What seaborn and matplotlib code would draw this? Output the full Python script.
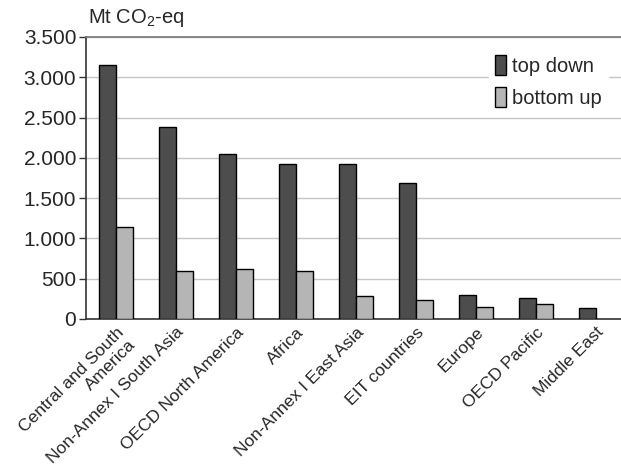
import pandas as pd
import matplotlib
matplotlib.use("Agg")
import matplotlib.pyplot as plt
import matplotlib.ticker as mticker
import numpy as np
import seaborn as sns

regions = ["Central and South\nAmerica", "Non-Annex I South Asia", "OECD North America",
           "Africa", "Non-Annex I East Asia", "EIT countries", "Europe",
           "OECD Pacific", "Middle East"]
top_down = [3150, 2380, 2050, 1925, 1920, 1690, 295, 255, 133]
bottom_up = [1140, 600, 620, 600, 287, 242, 146, 183, np.nan]
series = ["top down", "bottom up"]
colors = ["#4d4d4d", "#b5b5b5"]

df = pd.DataFrame({
    "region": regions * 2,
    "value": top_down + bottom_up,
    "method": [series[0]] * len(regions) + [series[1]] * len(regions),
})

sns.set_style("white")
plt.rcParams["font.family"] = ["Liberation Sans", "DejaVu Sans"]
plt.rcParams["mathtext.fontset"] = "custom"
plt.rcParams["mathtext.rm"] = "Liberation Sans"

fig = plt.figure(figsize=(6.21, 4.69), dpi=100)
ax = fig.add_axes([86 / 621, 150 / 469, 540 / 621, 282 / 469])

sns.barplot(data=df, x="region", y="value", hue="method", palette=colors,
            width=0.58, gap=0, edgecolor="black", linewidth=1.0, ax=ax,
            saturation=1, zorder=3)

ax.set_xlim(-0.5, 8.5)
ax.set_ylim(0, 3500)
ax.yaxis.set_major_locator(mticker.MultipleLocator(500))
ax.yaxis.set_major_formatter(mticker.FuncFormatter(lambda v, p: f"{int(v):,}".replace(",", ".")))
ax.grid(axis="y", color="#c4c4c4", linewidth=1.0, zorder=0)
ax.set_axisbelow(True)

ax.set_xlabel("")
ax.set_ylabel("")
ax.set_xticks(range(len(regions)))
ax.set_xticklabels(regions, rotation=45, ha="right", rotation_mode="anchor",
                   fontsize=12.6, multialignment="right")
ax.set_xticks(np.arange(-0.5, len(regions) - 0.5, 1), minor=True)
ax.tick_params(axis="x", which="major", length=0, pad=4)
ax.tick_params(axis="x", which="minor", length=6, width=1.0, color="#333333", direction="out")
ax.tick_params(axis="y", length=5, width=1.0, color="#333333", labelsize=15, pad=2, left=True)

for s in ["left", "bottom"]:
    ax.spines[s].set_color("#333333")
    ax.spines[s].set_linewidth(1.2)
ax.spines["top"].set_color("#777777")
ax.spines["top"].set_linewidth(1.2)
ax.spines["right"].set_visible(False)

fig.text(88 / 621, 1 - 18 / 469, "Mt CO$_\\mathregular{2}$-eq", fontsize=14.5, va="center", ha="left")

leg = ax.legend(loc="upper right", bbox_to_anchor=(0.985, 0.995), frameon=True, fontsize=14.5,
                handlelength=0.55, handleheight=1.2, handletextpad=0.3, labelspacing=0.55,
                borderpad=0.3)
leg.get_frame().set_edgecolor("white")
leg.get_frame().set_facecolor("white")
leg.get_frame().set_alpha(1)
leg.set_title(None)

fig.savefig("out.png", dpi=100)
